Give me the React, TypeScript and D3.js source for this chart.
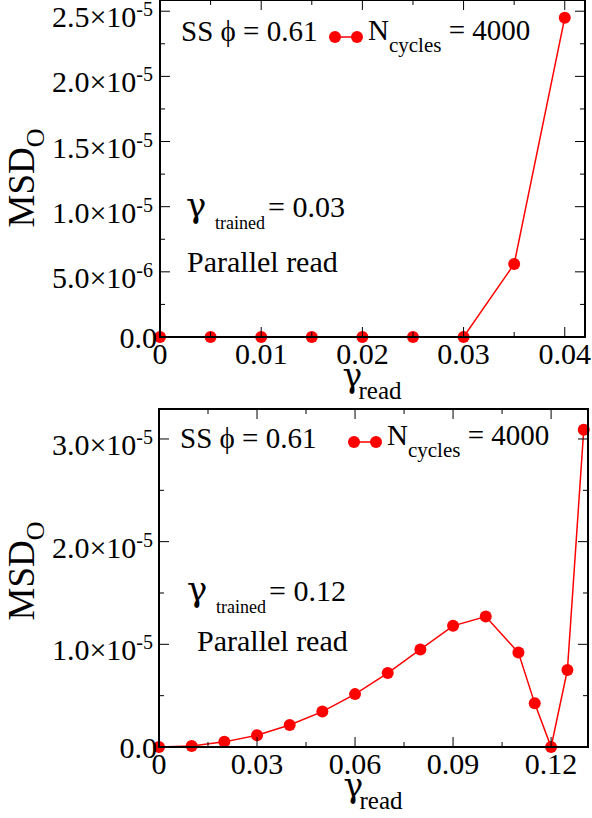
import React from "react";
import * as d3 from "d3";

// ---------- data ----------
const topGamma = [0, 0.005, 0.01, 0.015, 0.02, 0.025, 0.03, 0.035, 0.04];
const topMSD = [0, 0, 0, 0, 0, 0, 0, 5.6e-6, 2.45e-5];

const botGamma = [0, 0.01, 0.02, 0.03, 0.04, 0.05, 0.06, 0.07, 0.08, 0.09, 0.1, 0.11, 0.115, 0.12, 0.125, 0.13];
const botMSD = [0, 0.1e-6, 0.5e-6, 1.15e-6, 2.15e-6, 3.45e-6, 5.15e-6, 7.2e-6, 9.5e-6, 11.8e-6, 12.7e-6, 9.2e-6, 4.25e-6, 0, 7.5e-6, 3.09e-5];

const topXTicks = [0, 0.01, 0.02, 0.03, 0.04];
const topXTickLabels = ["0", "0.01", "0.02", "0.03", "0.04"];
const topXMinor = [0.005, 0.015, 0.025, 0.035];
const topYTicks = [0, 5e-6, 1e-5, 1.5e-5, 2e-5, 2.5e-5];
const topYMant = ["0.0", "5.0×10", "1.0×10", "1.5×10", "2.0×10", "2.5×10"];
const topYExp = ["", "-6", "-5", "-5", "-5", "-5"];
const topYMinor = [2.5e-6, 7.5e-6, 1.25e-5, 1.75e-5, 2.25e-5];

const botXTicks = [0, 0.03, 0.06, 0.09, 0.12];
const botXTickLabels = ["0", "0.03", "0.06", "0.09", "0.12"];
const botXMinor = [0.015, 0.045, 0.075, 0.105];
const botYTicks = [0, 1e-5, 2e-5, 3e-5];
const botYMant = ["0.0", "1.0×10", "2.0×10", "3.0×10"];
const botYExp = ["", "-5", "-5", "-5"];
const botYMinor = [5e-6, 1.5e-5, 2.5e-5];

const FONT_STYLE = { fontFamily: '"Liberation Serif", "DejaVu Serif", serif' };
const GREEK_STYLE = { fontFamily: '"DejaVu Serif", serif' };
const RED = "#ff0000";

type PanelProps = {
  xDomain: [number, number];
  xRange: [number, number];
  yDomain: [number, number];
  yRange: [number, number];
  xs: number[];
  ys: number[];
  xTicks: number[];
  xTickLabels: string[];
  xMinor: number[];
  yTicks: number[];
  yMant: string[];
  yExp: string[];
  yMinor: number[];
  gammaTrained: string;
  ssPos: [number, number];
  legPos: [number, number];
  trainedPos: [number, number];
  parPos: [number, number];
  yLabelY: number;
};

function Panel(p: PanelProps) {
  const x = d3.scaleLinear().domain(p.xDomain).range(p.xRange);
  const y = d3.scaleLinear().domain(p.yDomain).range(p.yRange);
  const pts = p.xs.map((g, i) => [g, p.ys[i]] as [number, number]);
  const line = d3
    .line<[number, number]>()
    .x((d) => x(d[0]))
    .y((d) => y(d[1]));
  const [x0, x1] = p.xRange;
  const [yb, yt] = p.yRange;
  const major = 10;
  const minor = 5;
  const xMid = (x0 + x1) / 2;
  const [tx, ty] = p.trainedPos;
  return (
    <g style={FONT_STYLE}>
      <path d={line(pts) || ""} fill="none" stroke={RED} strokeWidth={1.5} />
      {pts.map((d, i) => (
        <circle key={i} cx={x(d[0])} cy={y(d[1])} r={6} fill={RED} />
      ))}
      {/* frame */}
      <rect x={x0} y={yt} width={x1 - x0} height={yb - yt} fill="none" stroke="#000" strokeWidth={2} />
      {/* x ticks */}
      {p.xTicks.map((t, i) => (
        <g key={"xt" + i}>
          <line x1={x(t)} x2={x(t)} y1={yb} y2={yb - major} stroke="#000" strokeWidth={1} />
          <line x1={x(t)} x2={x(t)} y1={yt} y2={yt + major} stroke="#000" strokeWidth={1} />
          <text x={x(t)} y={yb + 27} textAnchor="middle" fontSize={30} style={FONT_STYLE}>
            {p.xTickLabels[i]}
          </text>
        </g>
      ))}
      {p.xMinor.map((t, i) => (
        <g key={"xm" + i}>
          <line x1={x(t)} x2={x(t)} y1={yb} y2={yb - minor} stroke="#000" strokeWidth={1} />
          <line x1={x(t)} x2={x(t)} y1={yt} y2={yt + minor} stroke="#000" strokeWidth={1} />
        </g>
      ))}
      {/* y ticks */}
      {p.yTicks.map((t, i) => (
        <g key={"yt" + i}>
          <line x1={x0} x2={x0 + major} y1={y(t)} y2={y(t)} stroke="#000" strokeWidth={1} />
          <line x1={x1} x2={x1 - major} y1={y(t)} y2={y(t)} stroke="#000" strokeWidth={1} />
          <text
            x={p.yExp[i] ? 153 : 157}
            y={y(t) + (p.yExp[i] ? 16 : 11)}
            textAnchor="end"
            fontSize={30}
            style={FONT_STYLE}
          >
            <tspan>{p.yMant[i]}</tspan>
            {p.yExp[i] ? (
              <tspan dy={-11} fontSize={20}>
                {p.yExp[i]}
              </tspan>
            ) : null}
          </text>
        </g>
      ))}
      {p.yMinor.map((t, i) => (
        <g key={"ym" + i}>
          <line x1={x0} x2={x0 + minor} y1={y(t)} y2={y(t)} stroke="#000" strokeWidth={1} />
          <line x1={x1} x2={x1 - minor} y1={y(t)} y2={y(t)} stroke="#000" strokeWidth={1} />
        </g>
      ))}
      {/* axis labels */}
      <text x={xMid - 30} y={yb + 50} fontSize={33} style={GREEK_STYLE}>
        γ
      </text>
      <text x={xMid - 14} y={yb + 62} fontSize={25} style={FONT_STYLE}>
        read
      </text>
      <text
        transform={`translate(34, ${p.yLabelY}) rotate(-90)`}
        textAnchor="middle"
        fontSize={37}
        style={FONT_STYLE}
      >
        <tspan>MSD</tspan>
        <tspan dy={10} fontSize={26}>O</tspan>
      </text>
      {/* annotations */}
      <text x={p.ssPos[0]} y={p.ssPos[1]} fontSize={29} style={FONT_STYLE}>
        SS ϕ = 0.61
      </text>
      <line x1={p.legPos[0]} x2={p.legPos[0] + 22} y1={p.legPos[1]} y2={p.legPos[1]} stroke={RED} strokeWidth={1.5} />
      <circle cx={p.legPos[0]} cy={p.legPos[1]} r={6} fill={RED} />
      <circle cx={p.legPos[0] + 22} cy={p.legPos[1]} r={6} fill={RED} />
      <text x={p.legPos[0] + 33} y={p.legPos[1] + 3} fontSize={29} style={FONT_STYLE}>
        <tspan>N</tspan>
        <tspan dy={12} fontSize={21}>cycles</tspan>
        <tspan dy={-12}> = 4000</tspan>
      </text>
      <text x={tx} y={ty} fontSize={34} style={GREEK_STYLE}>
        γ
      </text>
      <text x={tx + 29} y={ty + 12} fontSize={18} style={FONT_STYLE}>
        trained
      </text>
      <text x={tx + 82} y={ty} fontSize={30} style={FONT_STYLE}>
        = {p.gammaTrained}
      </text>
      <text x={p.parPos[0]} y={p.parPos[1]} fontSize={30} style={FONT_STYLE}>
        Parallel read
      </text>
    </g>
  );
}

export default function App() {
  return (
    <svg width={592} height={818} style={{ display: "block", position: "absolute", left: 0, top: 0, background: "#fff" }}>
      <rect x={0} y={0} width={592} height={818} fill="#fff" />
      <Panel
        xDomain={[0, 0.042]}
        xRange={[160, 585]}
        yDomain={[0, 2.586e-5]}
        yRange={[337, 0]}
        xs={topGamma}
        ys={topMSD}
        xTicks={topXTicks}
        xTickLabels={topXTickLabels}
        xMinor={topXMinor}
        yTicks={topYTicks}
        yMant={topYMant}
        yExp={topYExp}
        yMinor={topYMinor}
        gammaTrained="0.03"
        ssPos={[181, 41]}
        legPos={[335, 37]}
        trainedPos={[186, 217]}
        parPos={[187, 272]}
        yLabelY={178}
      />
      <Panel
        xDomain={[0, 0.1313]}
        xRange={[159, 588]}
        yDomain={[0, 3.292e-5]}
        yRange={[747, 409]}
        xs={botGamma}
        ys={botMSD}
        xTicks={botXTicks}
        xTickLabels={botXTickLabels}
        xMinor={botXMinor}
        yTicks={botYTicks}
        yMant={botYMant}
        yExp={botYExp}
        yMinor={botYMinor}
        gammaTrained="0.12"
        ssPos={[180, 448]}
        legPos={[354, 442]}
        trainedPos={[187, 601]}
        parPos={[197, 651]}
        yLabelY={571}
      />
    </svg>
  );
}
